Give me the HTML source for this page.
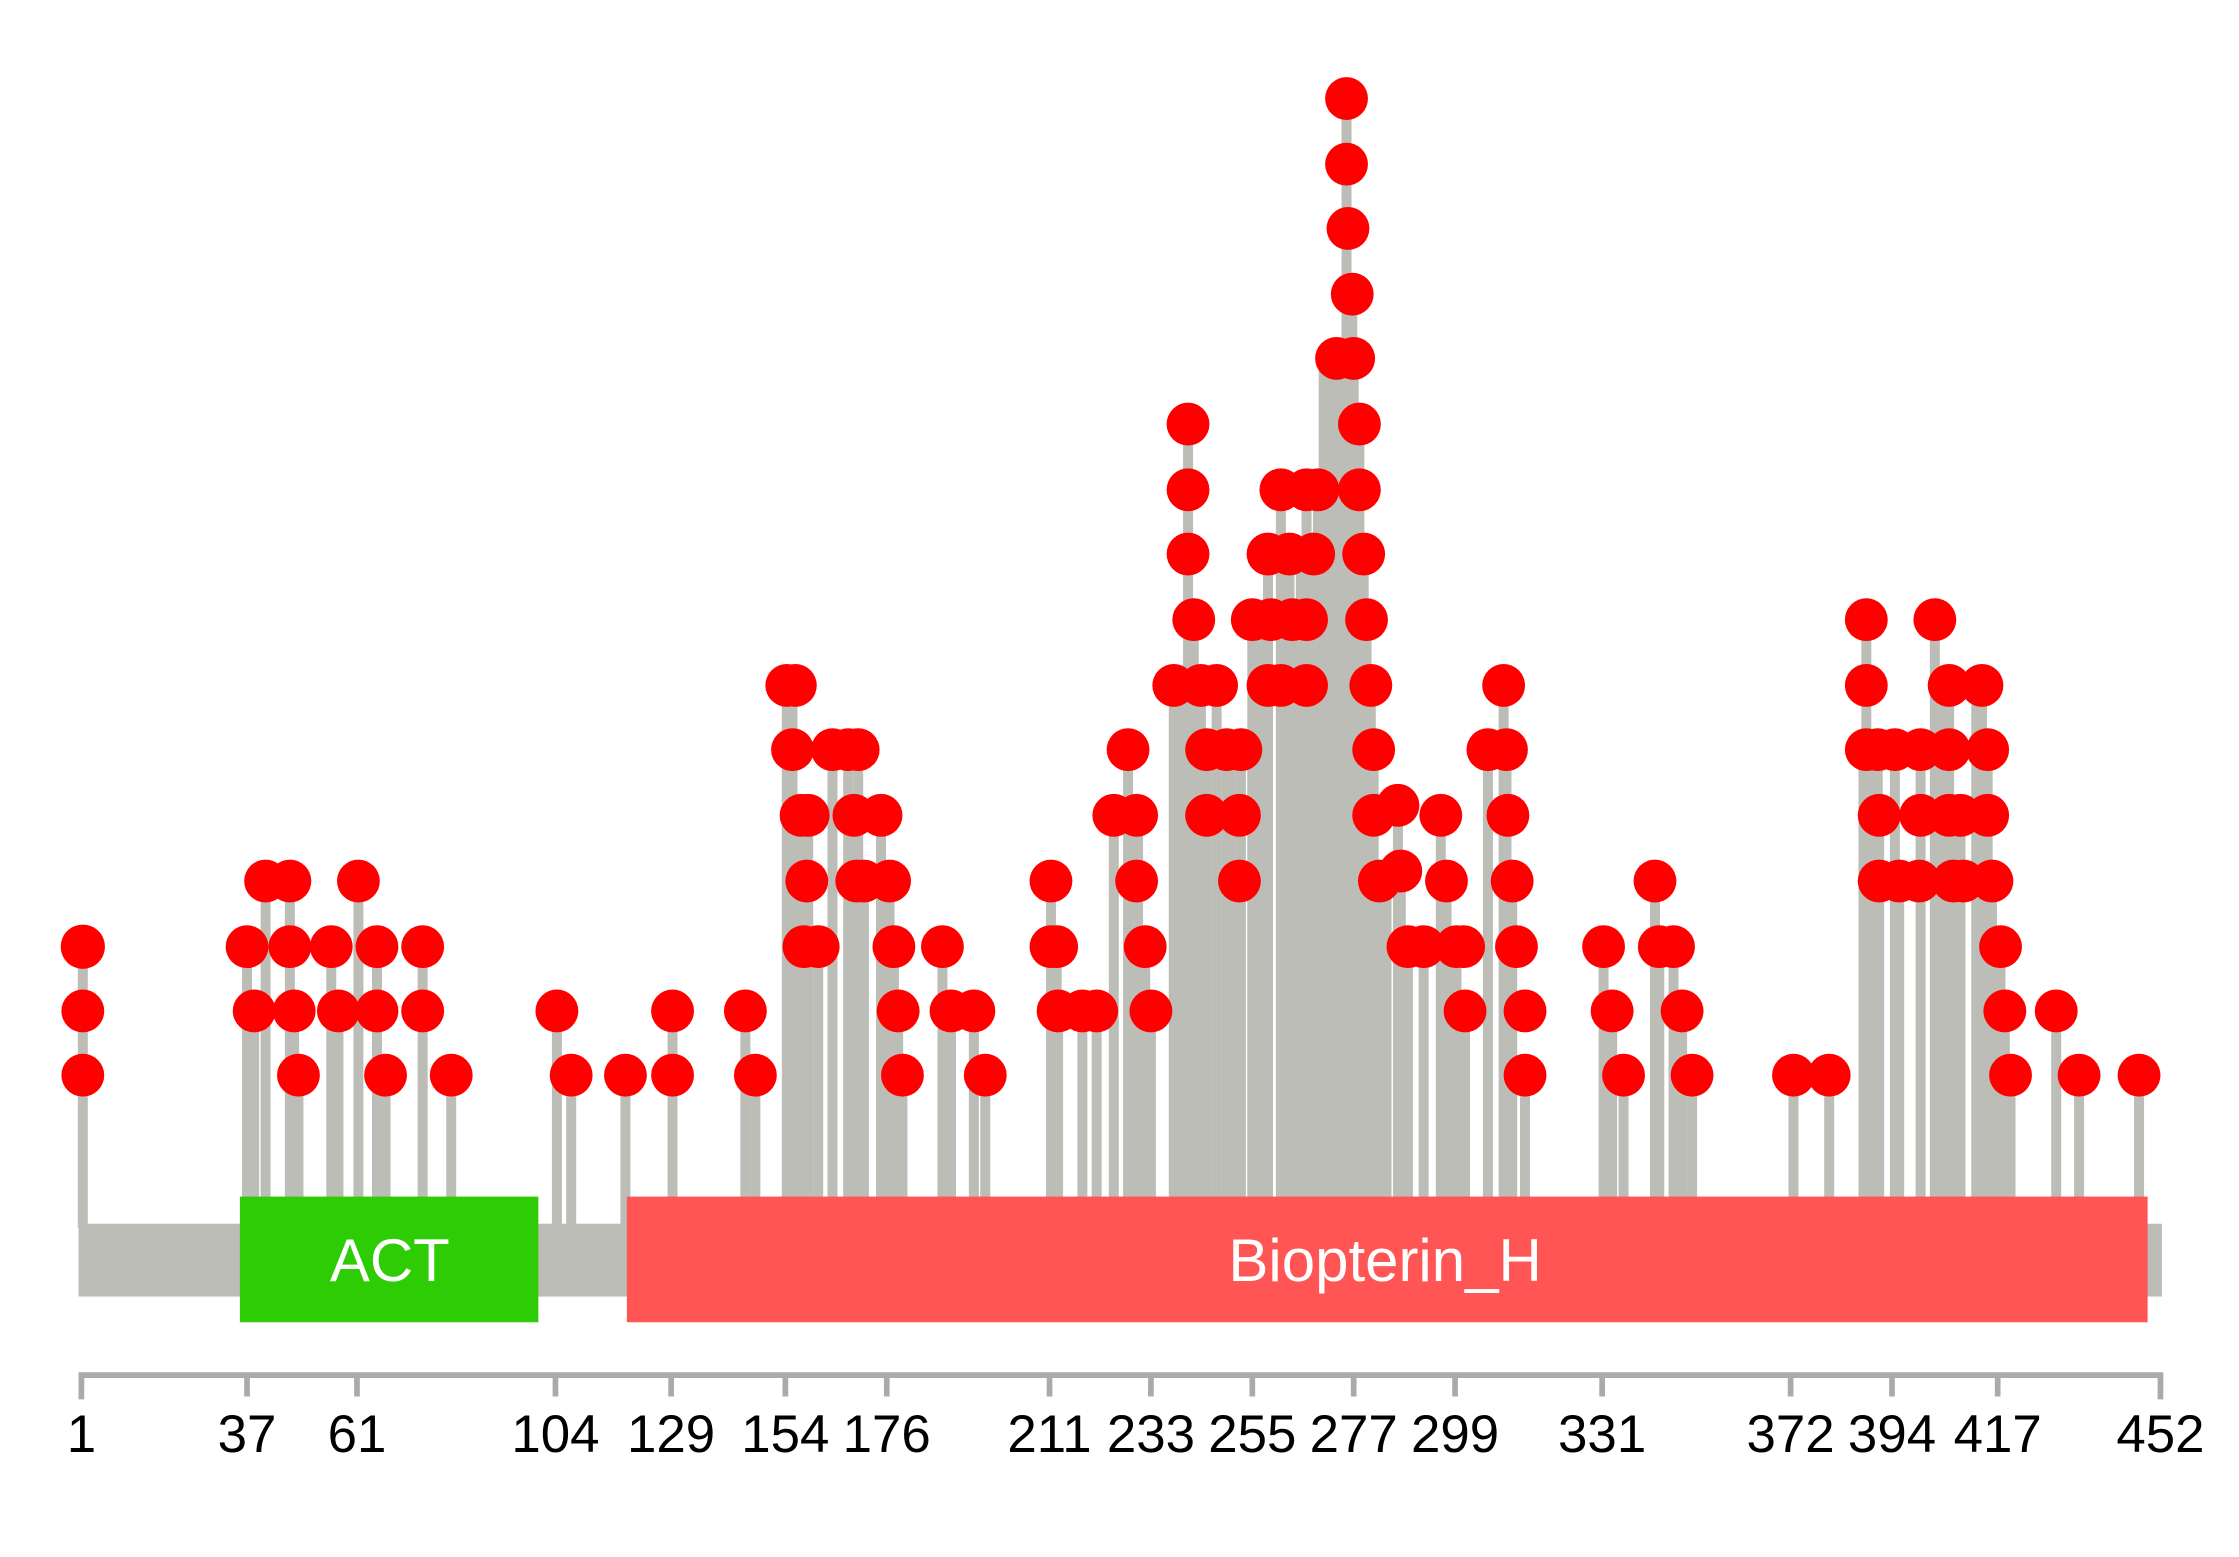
<!DOCTYPE html>
<html><head><meta charset="utf-8"><style>
html,body{margin:0;padding:0;background:#fff;}
svg{display:block;}
text{font-family:"Liberation Sans",Arial,sans-serif;}
</style></head><body>
<svg width="2239" height="1557" viewBox="0 0 1568 1090.4" preserveAspectRatio="none" xmlns="http://www.w3.org/2000/svg">
<g stroke="#bbbdb6" stroke-width="7">
<line x1="58" y1="663" x2="58" y2="860"/><line x1="173" y1="663" x2="173" y2="860"/><line x1="178" y1="708" x2="178" y2="860"/><line x1="186" y1="617" x2="186" y2="860"/><line x1="203" y1="617" x2="203" y2="860"/><line x1="206" y1="708" x2="206" y2="860"/><line x1="209" y1="753" x2="209" y2="860"/><line x1="232" y1="663" x2="232" y2="860"/><line x1="237" y1="708" x2="237" y2="860"/><line x1="251" y1="617" x2="251" y2="860"/><line x1="264" y1="663" x2="264" y2="860"/><line x1="270" y1="753" x2="270" y2="860"/><line x1="296" y1="663" x2="296" y2="860"/><line x1="316" y1="753" x2="316" y2="860"/><line x1="390" y1="708" x2="390" y2="860"/><line x1="400" y1="753" x2="400" y2="860"/><line x1="438" y1="753" x2="438" y2="860"/><line x1="471" y1="708" x2="471" y2="860"/><line x1="522" y1="708" x2="522" y2="860"/><line x1="529" y1="753" x2="529" y2="860"/>
<line x1="551" y1="480" x2="551" y2="860"/><line x1="555" y1="480" x2="555" y2="860"/><line x1="561" y1="571" x2="561" y2="860"/><line x1="566" y1="571" x2="566" y2="860"/><line x1="573" y1="663" x2="573" y2="860"/><line x1="583" y1="525" x2="583" y2="860"/><line x1="594" y1="525" x2="594" y2="860"/><line x1="601" y1="525" x2="601" y2="860"/><line x1="598" y1="571" x2="598" y2="860"/><line x1="605" y1="617" x2="605" y2="860"/><line x1="617" y1="571" x2="617" y2="860"/><line x1="623" y1="617" x2="623" y2="860"/><line x1="626" y1="663" x2="626" y2="860"/><line x1="629" y1="708" x2="629" y2="860"/><line x1="632" y1="753" x2="632" y2="860"/><line x1="660" y1="663" x2="660" y2="860"/><line x1="666" y1="708" x2="666" y2="860"/><line x1="682" y1="708" x2="682" y2="860"/><line x1="690" y1="753" x2="690" y2="860"/><line x1="736" y1="617" x2="736" y2="860"/><line x1="740" y1="663" x2="740" y2="860"/><line x1="741" y1="708" x2="741" y2="860"/><line x1="758" y1="708" x2="758" y2="860"/><line x1="768" y1="708" x2="768" y2="860"/><line x1="780" y1="571" x2="780" y2="860"/><line x1="790" y1="525" x2="790" y2="860"/><line x1="797" y1="571" x2="797" y2="860"/><line x1="802" y1="663" x2="802" y2="860"/><line x1="806" y1="708" x2="806" y2="860"/>
<line x1="822" y1="480" x2="822" y2="860"/><line x1="828" y1="480" x2="828" y2="860"/><line x1="832" y1="297" x2="832" y2="860"/><line x1="836" y1="434" x2="836" y2="860"/><line x1="841" y1="480" x2="841" y2="860"/><line x1="845" y1="525" x2="845" y2="860"/><line x1="852" y1="480" x2="852" y2="860"/><line x1="859" y1="525" x2="859" y2="860"/><line x1="862" y1="525" x2="862" y2="860"/><line x1="869" y1="525" x2="869" y2="860"/><line x1="868" y1="617" x2="868" y2="860"/><line x1="877" y1="434" x2="877" y2="860"/><line x1="882" y1="434" x2="882" y2="860"/><line x1="888" y1="388" x2="888" y2="860"/><line x1="897" y1="343" x2="897" y2="860"/><line x1="903" y1="388" x2="903" y2="860"/><line x1="905" y1="434" x2="905" y2="860"/><line x1="911" y1="388" x2="911" y2="860"/><line x1="915" y1="343" x2="915" y2="860"/><line x1="920" y1="388" x2="920" y2="860"/><line x1="923" y1="343" x2="923" y2="860"/><line x1="927" y1="251" x2="927" y2="860"/><line x1="931" y1="251" x2="931" y2="860"/><line x1="936" y1="251" x2="936" y2="860"/><line x1="939" y1="251" x2="939" y2="860"/><line x1="943" y1="69" x2="943" y2="860"/><line x1="947" y1="206" x2="947" y2="860"/><line x1="948" y1="251" x2="948" y2="860"/><line x1="952" y1="297" x2="952" y2="860"/><line x1="955" y1="388" x2="955" y2="860"/><line x1="957" y1="434" x2="957" y2="860"/><line x1="960" y1="480" x2="960" y2="860"/><line x1="962" y1="525" x2="962" y2="860"/><line x1="966" y1="617" x2="966" y2="860"/><line x1="971" y1="617" x2="971" y2="860"/><line x1="979" y1="564" x2="979" y2="860"/><line x1="981" y1="610" x2="981" y2="860"/><line x1="986" y1="663" x2="986" y2="860"/><line x1="997" y1="663" x2="997" y2="860"/><line x1="1009" y1="571" x2="1009" y2="860"/><line x1="1013" y1="617" x2="1013" y2="860"/><line x1="1020" y1="663" x2="1020" y2="860"/><line x1="1026" y1="708" x2="1026" y2="860"/><line x1="1042" y1="525" x2="1042" y2="860"/><line x1="1053" y1="480" x2="1053" y2="860"/><line x1="1055" y1="525" x2="1055" y2="860"/><line x1="1059" y1="617" x2="1059" y2="860"/><line x1="1068" y1="753" x2="1068" y2="860"/>
<line x1="1123" y1="663" x2="1123" y2="860"/><line x1="1129" y1="708" x2="1129" y2="860"/><line x1="1137" y1="753" x2="1137" y2="860"/><line x1="1159" y1="617" x2="1159" y2="860"/><line x1="1162" y1="663" x2="1162" y2="860"/><line x1="1172" y1="663" x2="1172" y2="860"/><line x1="1178" y1="708" x2="1178" y2="860"/><line x1="1185" y1="753" x2="1185" y2="860"/><line x1="1256" y1="753" x2="1256" y2="860"/><line x1="1281" y1="753" x2="1281" y2="860"/>
<line x1="1305" y1="525" x2="1305" y2="860"/><line x1="1307" y1="434" x2="1307" y2="860"/><line x1="1310" y1="525" x2="1310" y2="860"/><line x1="1315" y1="525" x2="1315" y2="860"/><line x1="1316" y1="571" x2="1316" y2="860"/><line x1="1327" y1="525" x2="1327" y2="860"/><line x1="1330" y1="617" x2="1330" y2="860"/><line x1="1345" y1="525" x2="1345" y2="860"/><line x1="1355" y1="434" x2="1355" y2="860"/><line x1="1360" y1="480" x2="1360" y2="860"/><line x1="1365" y1="480" x2="1365" y2="860"/><line x1="1370" y1="571" x2="1370" y2="860"/><line x1="1373" y1="571" x2="1373" y2="860"/><line x1="1384" y1="480" x2="1384" y2="860"/><line x1="1388" y1="480" x2="1388" y2="860"/><line x1="1392" y1="525" x2="1392" y2="860"/><line x1="1395" y1="617" x2="1395" y2="860"/><line x1="1401" y1="663" x2="1401" y2="860"/><line x1="1404" y1="708" x2="1404" y2="860"/><line x1="1408" y1="753" x2="1408" y2="860"/><line x1="1440" y1="708" x2="1440" y2="860"/><line x1="1456" y1="753" x2="1456" y2="860"/><line x1="1498" y1="753" x2="1498" y2="860"/>
</g>
<rect x="55" y="857" width="1459" height="51" fill="#bbbdb6"/>
<rect x="168" y="838" width="209" height="88" fill="#2ecc05"/>
<rect x="439" y="838" width="1065" height="88" fill="#ff5555"/>
<text x="273" y="897" font-size="42" fill="#fff" text-anchor="middle">ACT</text>
<text x="970" y="897" font-size="42" fill="#fff" text-anchor="middle">Biopterin_H</text>
<g fill="#ff0000">
<circle cx="58" cy="663" r="15.5"/><circle cx="58" cy="708" r="15"/><circle cx="58" cy="753" r="15"/><circle cx="173" cy="663" r="15"/><circle cx="178" cy="708" r="15"/><circle cx="186" cy="617" r="15"/><circle cx="203" cy="617" r="15"/><circle cx="203" cy="663" r="15"/><circle cx="206" cy="708" r="15"/><circle cx="209" cy="753" r="15"/><circle cx="232" cy="663" r="15"/><circle cx="237" cy="708" r="15"/><circle cx="251" cy="617" r="15"/><circle cx="264" cy="663" r="15"/><circle cx="264" cy="708" r="15"/><circle cx="270" cy="753" r="15"/><circle cx="296" cy="663" r="15"/><circle cx="296" cy="708" r="15"/><circle cx="316" cy="753" r="15"/><circle cx="390" cy="708" r="15"/><circle cx="400" cy="753" r="15"/><circle cx="438" cy="753" r="15"/><circle cx="471" cy="708" r="15"/><circle cx="471" cy="753" r="15"/><circle cx="522" cy="708" r="15"/><circle cx="529" cy="753" r="15"/>
<circle cx="551" cy="480" r="15"/><circle cx="557" cy="480" r="15"/><circle cx="555" cy="525" r="15"/><circle cx="561" cy="571" r="15"/><circle cx="566" cy="571" r="15"/><circle cx="565" cy="617" r="15"/><circle cx="563" cy="663" r="15"/><circle cx="573" cy="663" r="15"/><circle cx="583" cy="525" r="15"/><circle cx="594" cy="525" r="15"/><circle cx="601" cy="525" r="15"/><circle cx="598" cy="571" r="15"/><circle cx="600" cy="617" r="15"/><circle cx="605" cy="617" r="15"/><circle cx="617" cy="571" r="15"/><circle cx="623" cy="617" r="15"/><circle cx="626" cy="663" r="15"/><circle cx="629" cy="708" r="15"/><circle cx="632" cy="753" r="15"/><circle cx="660" cy="663" r="15"/><circle cx="666" cy="708" r="15"/><circle cx="682" cy="708" r="15"/><circle cx="690" cy="753" r="15"/><circle cx="736" cy="617" r="15"/><circle cx="736" cy="663" r="15"/><circle cx="740" cy="663" r="15"/><circle cx="741" cy="708" r="15"/><circle cx="758" cy="708" r="15"/><circle cx="768" cy="708" r="15"/>
<circle cx="780" cy="571" r="15"/><circle cx="790" cy="525" r="15"/><circle cx="796" cy="571" r="15"/><circle cx="796" cy="617" r="15"/><circle cx="802" cy="663" r="15"/><circle cx="806" cy="708" r="15"/><circle cx="822" cy="480" r="15"/><circle cx="832" cy="297" r="15"/><circle cx="832" cy="343" r="15"/><circle cx="832" cy="388" r="15"/><circle cx="836" cy="434" r="15"/><circle cx="841" cy="480" r="15"/><circle cx="852" cy="480" r="15"/><circle cx="845" cy="525" r="15"/><circle cx="859" cy="525" r="15"/><circle cx="869" cy="525" r="15"/><circle cx="845" cy="571" r="15"/><circle cx="868" cy="571" r="15"/><circle cx="868" cy="617" r="15"/><circle cx="877" cy="434" r="15"/><circle cx="888" cy="388" r="15"/><circle cx="897" cy="343" r="15"/><circle cx="915" cy="343" r="15"/><circle cx="923" cy="343" r="15"/><circle cx="890" cy="434" r="15"/><circle cx="905" cy="434" r="15"/><circle cx="915" cy="434" r="15"/><circle cx="888" cy="480" r="15"/><circle cx="897" cy="480" r="15"/><circle cx="915" cy="480" r="15"/><circle cx="903" cy="388" r="15"/><circle cx="920" cy="388" r="15"/>
<circle cx="936" cy="251" r="15"/><circle cx="943" cy="69" r="15"/><circle cx="943" cy="115" r="15"/><circle cx="944" cy="160" r="15"/><circle cx="947" cy="206" r="15"/><circle cx="948" cy="251" r="15"/><circle cx="952" cy="297" r="15"/><circle cx="952" cy="343" r="15"/><circle cx="955" cy="388" r="15"/><circle cx="957" cy="434" r="15"/><circle cx="960" cy="480" r="15"/><circle cx="962" cy="525" r="15"/><circle cx="962" cy="571" r="15"/><circle cx="979" cy="564" r="15"/><circle cx="966" cy="617" r="15"/><circle cx="981" cy="610" r="15"/><circle cx="986" cy="663" r="15"/><circle cx="997" cy="663" r="15"/><circle cx="1009" cy="571" r="15"/><circle cx="1013" cy="617" r="15"/><circle cx="1020" cy="663" r="15"/><circle cx="1025" cy="663" r="15"/><circle cx="1026" cy="708" r="15"/>
<circle cx="1042" cy="525" r="15"/><circle cx="1053" cy="480" r="15"/><circle cx="1055" cy="525" r="15"/><circle cx="1056" cy="571" r="15"/><circle cx="1059" cy="617" r="15"/><circle cx="1062" cy="663" r="15"/><circle cx="1068" cy="708" r="15"/><circle cx="1068" cy="753" r="15"/>
<circle cx="1123" cy="663" r="15"/><circle cx="1129" cy="708" r="15"/><circle cx="1137" cy="753" r="15"/><circle cx="1159" cy="617" r="15"/><circle cx="1162" cy="663" r="15"/><circle cx="1172" cy="663" r="15"/><circle cx="1178" cy="708" r="15"/><circle cx="1185" cy="753" r="15"/><circle cx="1256" cy="753" r="15"/><circle cx="1281" cy="753" r="15"/>
<circle cx="1307" cy="434" r="15"/><circle cx="1307" cy="480" r="15"/><circle cx="1307" cy="525" r="15"/><circle cx="1315" cy="525" r="15"/><circle cx="1327" cy="525" r="15"/><circle cx="1345" cy="525" r="15"/><circle cx="1316" cy="571" r="15"/><circle cx="1345" cy="571" r="15"/><circle cx="1316" cy="617" r="15"/><circle cx="1330" cy="617" r="15"/><circle cx="1344" cy="617" r="15"/><circle cx="1355" cy="434" r="15"/><circle cx="1365" cy="480" r="15"/><circle cx="1388" cy="480" r="15"/><circle cx="1365" cy="525" r="15"/><circle cx="1392" cy="525" r="15"/><circle cx="1365" cy="571" r="15"/><circle cx="1373" cy="571" r="15"/><circle cx="1392" cy="571" r="15"/><circle cx="1368" cy="617" r="15"/><circle cx="1375" cy="617" r="15"/><circle cx="1395" cy="617" r="15"/><circle cx="1401" cy="663" r="15"/><circle cx="1404" cy="708" r="15"/><circle cx="1408" cy="753" r="15"/><circle cx="1440" cy="708" r="15"/><circle cx="1456" cy="753" r="15"/><circle cx="1498" cy="753" r="15"/>
</g>
<g stroke="#aaaaaa" stroke-width="4">
<line x1="55" y1="963" x2="1515" y2="963"/>
<line x1="57" y1="963" x2="57" y2="980"/><line x1="173" y1="963" x2="173" y2="978"/><line x1="250" y1="963" x2="250" y2="978"/><line x1="389" y1="963" x2="389" y2="978"/><line x1="470" y1="963" x2="470" y2="978"/><line x1="550" y1="963" x2="550" y2="978"/><line x1="621" y1="963" x2="621" y2="978"/><line x1="735" y1="963" x2="735" y2="978"/><line x1="806" y1="963" x2="806" y2="978"/><line x1="877" y1="963" x2="877" y2="978"/><line x1="948" y1="963" x2="948" y2="978"/><line x1="1019" y1="963" x2="1019" y2="978"/><line x1="1122" y1="963" x2="1122" y2="978"/><line x1="1254" y1="963" x2="1254" y2="978"/><line x1="1325" y1="963" x2="1325" y2="978"/><line x1="1399" y1="963" x2="1399" y2="978"/><line x1="1513" y1="963" x2="1513" y2="980"/>
</g>
<g font-size="37" fill="#000" text-anchor="middle">
<text x="57" y="1017">1</text><text x="173" y="1017">37</text><text x="250" y="1017">61</text><text x="389" y="1017">104</text><text x="470" y="1017">129</text><text x="550" y="1017">154</text><text x="621" y="1017">176</text><text x="735" y="1017">211</text><text x="806" y="1017">233</text><text x="877" y="1017">255</text><text x="948" y="1017">277</text><text x="1019" y="1017">299</text><text x="1122" y="1017">331</text><text x="1254" y="1017">372</text><text x="1325" y="1017">394</text><text x="1399" y="1017">417</text><text x="1513" y="1017">452</text>
</g>
</svg>
</body></html>
